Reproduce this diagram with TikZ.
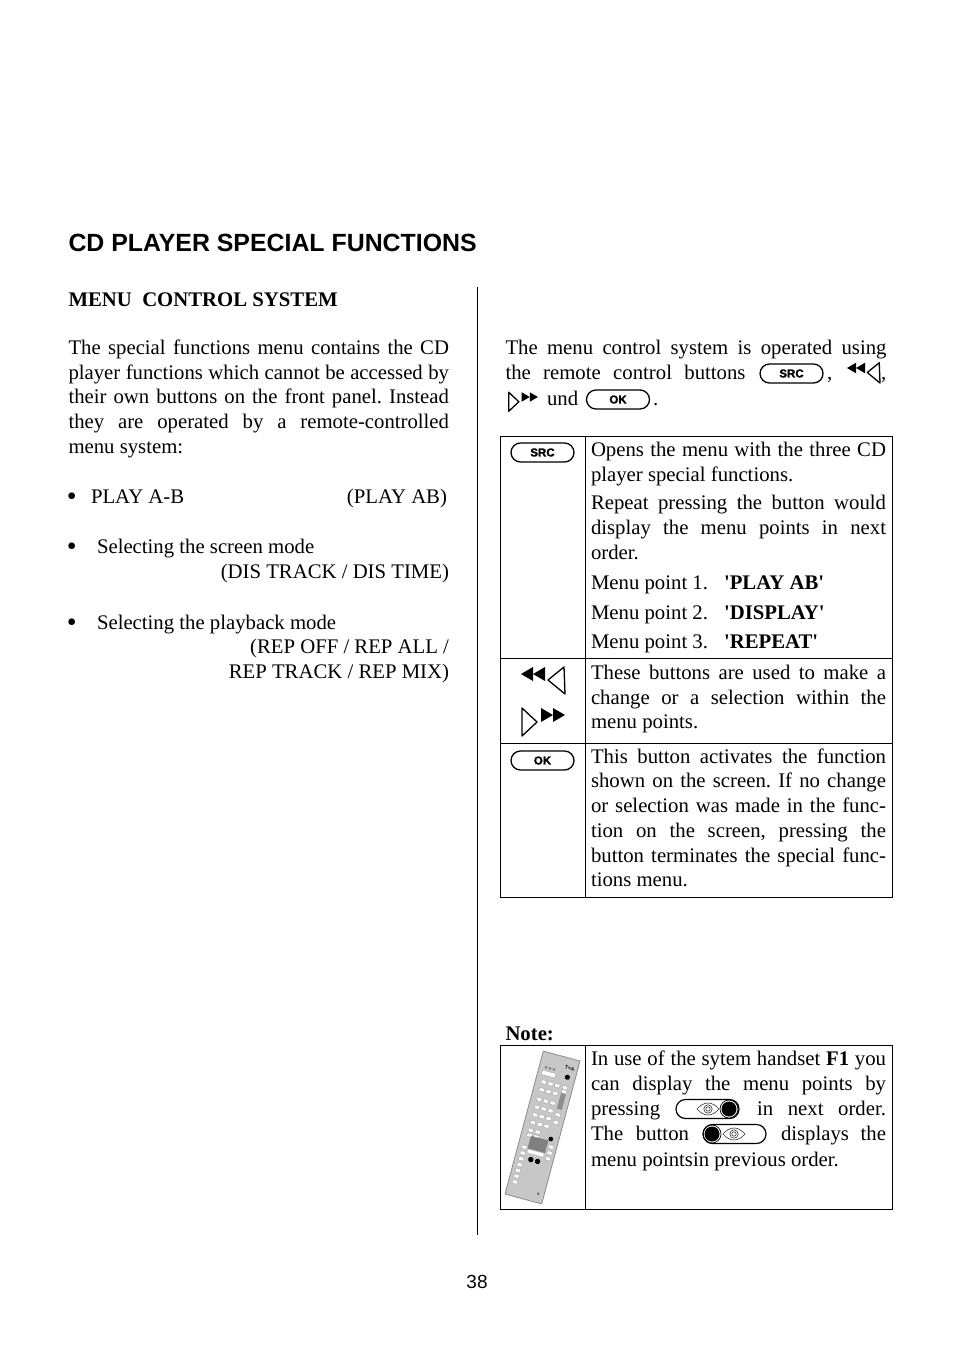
\documentclass[tikz,border=0pt]{standalone}
\usepackage{fontspec}
\setmainfont{Liberation Serif}
\newfontfamily\sansfnt{Liberation Sans}
\newfontfamily\knobfnt[BoldFeatures={FakeBold=1.6}]{Liberation Sans}
\tolerance=9999
\hbadness=10000
\hfuzz=3pt
\frenchspacing
\tikzset{
    para/.style={anchor=north west,inner sep=0pt,outer sep=0pt,align=justify,
        font=\fontsize{20.75}{24.7}\selectfont\frenchspacing,execute at begin node=\strut},
    txt/.style={anchor=base west,inner sep=0pt,outer sep=0pt,font=\fontsize{20.75}{24.7}\selectfont\frenchspacing},
    txtr/.style={txt,anchor=base east},
    txtb/.style={txt,font=\fontsize{20.75}{24.7}\selectfont\bfseries},
    rule/.style={line width=.9pt,draw=black},
    key/.style={fill=white,draw=black!40,line width=.3pt}
}
% line of text stretched to a given width
\newcommand{\fit}[2]{\makebox[#1pt][s]{#2}}
\newcommand{\blob}{\raisebox{-2.7pt}{\fontsize{28}{28}\selectfont\textbullet}}
\newcommand{\knob}[4]{%
    \draw[line width=1.3pt,rounded corners=9.5pt] (#2,#3)++(-31.5,-9.5) rectangle ++(63,19);
    \node[inner sep=0pt,font=\fontsize{11.5}{12}\knobfnt\bfseries] (#1) at (#2,#3) {#4};
}
\newcommand{\backicon}[3]{%
    \begin{scope}[shift={(#1,#2)},scale=#3]
        \fill (0,0)--++(12,-7)--++(0,14)--cycle;
        \fill (12,0)--++(12,-7)--++(0,14)--cycle;
        \draw[line width=1.3pt,line join=round] (27,6)--(43,-7)--(44,20)--cycle;
    \end{scope}
}
\newcommand{\nexticon}[3]{%
    \begin{scope}[shift={(#1,#2)},scale=#3]
        \draw[line width=1.3pt,line join=round] (1,-7)--(16,7)--(1,21)--cycle;
        \fill (20,-7)--++(12,7)--++(-12,7)--cycle;
        \fill (32,-7)--++(12,7)--++(-12,7)--cycle;
    \end{scope}
}
\newcommand{\eyeknob}[2]{%
    \draw[line width=1.2pt,rounded corners=9.5pt] (#1,#2)++(-31.5,-9.5) rectangle ++(63,19);
}
\newcommand{\eye}[2]{%
    \begin{scope}[shift={(#1,#2)},line width=.6pt,draw=black!80]
        \draw (-11,0) .. controls (-4,-8) and (4,-8) .. (11,0) .. controls (4,8) and (-4,8) .. cycle;
        \draw (0,0) circle (4.2);
        \draw (0,0) circle (2.2);
    \end{scope}
}
\newcommand{\dotknob}[2]{%
    \fill (#1,#2) circle (7.5);
    \draw[line width=.7pt] (#1,#2) circle (9);
}
\begin{document}
\begin{tikzpicture}[x=1pt,y=-1pt]
    \useasboundingbox (0,0) rectangle (954,1351);
    \node[txt,font=\fontsize{24.88}{30}\sansfnt\bfseries] (title) at (68.5,251.5) {CD PLAYER SPECIAL FUNCTIONS};
    \draw[rule] (477.5,287) -- (477.5,1235);
    % left column
    \node[txtb] (menuhead) at (68.5,306) {MENU\ \ CONTROL SYSTEM};
    \node[para,text width=380.5pt] (intro) at (68.5,337.2) {The special functions menu contains the CD\linebreak
        player functions which cannot be accessed by\linebreak
        their own buttons on the front panel. Instead\linebreak
        they are operated by a remote-controlled\linebreak
        menu system:};
    \node[txt] (bulla) at (66.8,503) {\blob};
    \node[txt] (playab) at (91,503) {PLAY A-B};
    \node[txtr] (playabr) at (447,503) {(PLAY AB)};
    \node[txt] (bullb) at (66.8,553) {\blob};
    \node[txt] (screen) at (97,553) {Selecting the screen mode};
    \node[txtr] (screenr) at (449,578) {(DIS TRACK / DIS TIME)};
    \node[txt] (bullc) at (66.8,629) {\blob};
    \node[txt] (playback) at (97,629) {Selecting the playback mode};
    \node[txtr] (playbackr) at (449,653) {(REP OFF / REP ALL /};
    \node[txtr] (playbacks) at (449,678) {REP TRACK / REP MIX)};
    % right column
    \node[txt] (opa) at (505.5,354.5) {\fit{381}{The menu control system is operated using}};
    \node[txt] (opb) at (505.5,379.5) {\fit{240}{the remote control buttons}};
    \knob{srcin}{791.5}{373.5}{SRC}
    \node[txt] (comma) at (827,379.5) {,};
    \backicon{847}{368}{.75}
    \node[txt] (commb) at (881,379.5) {,};
    \nexticon{508}{397}{.68}
    \node[txt] (opc) at (547,405) {und};
    \knob{okin}{618}{399.5}{OK}
    \node[txt] (opd) at (653,405) {.};
    % table
    \draw[rule] (500.5,436.5) rectangle (892.5,897.5);
    \draw[rule] (585.5,436.5) -- (585.5,897.5);
    \draw[rule] (500.5,658.5) -- (892.5,658.5);
    \draw[rule] (500.5,743.5) -- (892.5,743.5);
    \knob{srctab}{542.5}{452.5}{SRC}
    \backicon{521}{674}{1}
    \nexticon{521}{715}{1}
    \knob{oktab}{542.5}{760.5}{OK}
    \node[para,text width=295pt] (opens) at (591,439.2) {Opens the menu with the three CD\linebreak
        player special functions.};
    \node[para,text width=295pt] (repeat) at (591,492.6) {Repeat pressing the button would\linebreak
        display the menu points in next\linebreak
        order.};
    \node[txt] (pta) at (591,589.5) {Menu point 1.};
    \node[txtb] (ptat) at (724,589.5) {\textquotesingle PLAY AB\textquotesingle};
    \node[txt] (ptb) at (591,619) {Menu point 2.};
    \node[txtb] (ptbt) at (724,619) {\textquotesingle DISPLAY\textquotesingle};
    \node[txt] (ptc) at (591,648) {Menu point 3.};
    \node[txtb] (ptct) at (724,648) {\textquotesingle REPEAT\textquotesingle};
    \node[para,text width=295pt] (these) at (591,662.2) {These buttons are used to make a\linebreak
        change or a selection within the\linebreak
        menu points.};
    \node[para,text width=295pt] (activ) at (591,746) {This button activates the function\linebreak
        shown on the screen. If no change\linebreak
        or selection was made in the func-\linebreak
        tion on the screen, pressing the\linebreak
        button terminates the special func-\linebreak
        tions menu.};
    % note
    \node[txtb] (note) at (505.5,1040) {Note:};
    \draw[rule] (500.5,1045.5) rectangle (892.5,1209.5);
    \draw[rule] (585.5,1045.5) -- (585.5,1209.5);
    \node[txt] (nta) at (591,1065) {\fit{295}{In use of the sytem handset \textbf{F1} you}};
    \node[txt] (ntb) at (591,1090) {\fit{295}{can display the menu points by}};
    \node[txt] (ntc) at (591,1115) {\fit{69}{pressing}};
    \eyeknob{707.5}{1109}
    \eye{708}{1109}
    \dotknob{729}{1109}
    \node[txt] (ntd) at (757,1115) {\fit{129}{in next order.}};
    \node[txt] (nte) at (591,1140) {\fit{98}{The button}};
    \eyeknob{734.5}{1134}
    \dotknob{712}{1134}
    \eye{734}{1134}
    \node[txt] (ntf) at (781,1140) {\fit{105}{displays the}};
    \node[txt] (ntg) at (591,1166) {menu pointsin previous order.};
    % handset
    \begin{scope}[shift={(542.5,1127.5)},rotate=-15]
        \filldraw[fill=black!22,draw=black!45,line width=.8pt] (-19,-74) rectangle (19,74);
        \node[inner sep=0pt,font=\fontsize{5}{5}\sansfnt\bfseries,rotate=-15] (brand) at (11,-64) {T+A};
        \foreach \x in {-13,-9,-5}
            \fill[black!55] (\x,-60) rectangle ++(2,2);
        \filldraw[key] (-15,-55.5) rectangle (-1,-51);
        \fill (11,-55) circle (2.6);
        \foreach \y in {-46,-38,-28,-20,-12,-4}
            \foreach \x in {-13,-6,1}
                \filldraw[key] (\x,\y) rectangle ++(5,3.5);
        \foreach \y in {-46,-42}
            \filldraw[key] (9,\y) rectangle ++(5,3.5);
        \fill[black!45] (9,-38) rectangle (14,-22);
        \foreach \y in {-18,-10}
            \filldraw[key] (9,\y) rectangle ++(5,3.5);
        \foreach \y in {4,9}
            \foreach \x in {-13,-6}
                \filldraw[key] (\x,\y) rectangle ++(5,3.5);
        \fill[black!50] (-9,11) rectangle (9,24);
        \fill[white] (-8,25) rectangle (8,28);
        \fill (11,9) circle (2.4);
        \foreach \y in {15,21,27}
            \filldraw[key] (11,\y) rectangle ++(5,3.5);
        \fill (-3,34) circle (2.7);
        \fill (4,34) circle (2.7);
        \foreach \y in {22,28,34,40,46,52,58}
            \filldraw[key] (-15,\y) rectangle ++(5,3.5);
        \fill[black!60] (12,64) rectangle ++(2,2);
    \end{scope}
    \node[txt,anchor=base,font=\fontsize{19}{22}\sansfnt] (pageno) at (477,1288.5) {38};
\end{tikzpicture}
\end{document}
